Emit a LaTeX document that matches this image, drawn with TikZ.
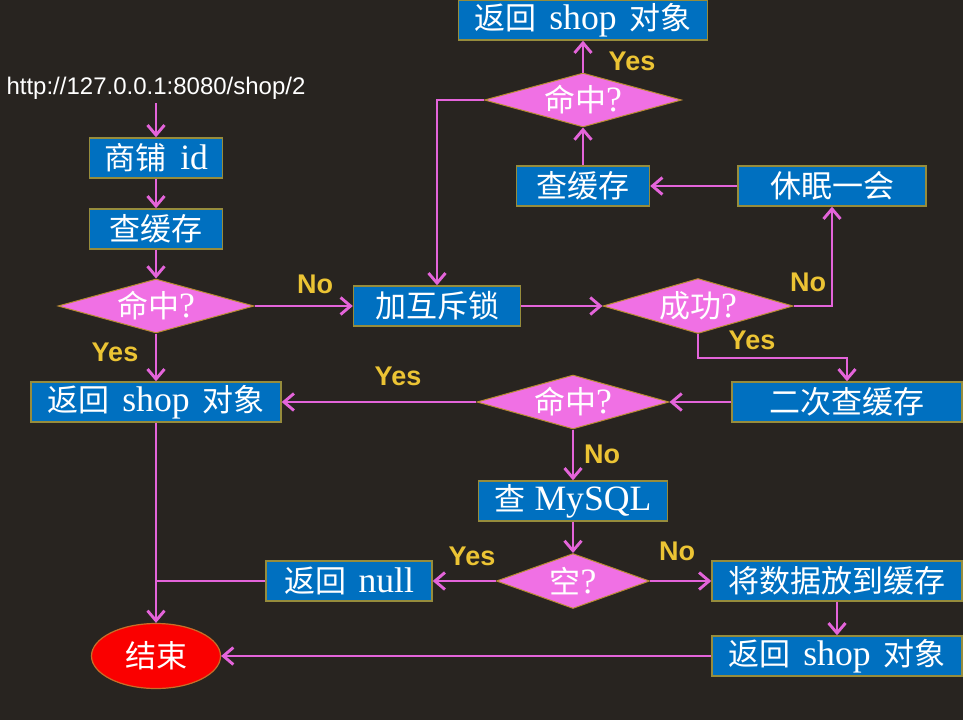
\documentclass[tikz,border=0pt]{standalone}
\usepackage{fontspec}
\setmainfont{Liberation Serif}[Scale=1.15]
\setsansfont{Liberation Sans}
\newfontfamily\cjk{Noto Sans CJK SC}
\newcommand{\hanzi}[1]{{\cjk #1}}
\usepackage{tikz}
\usetikzlibrary{arrows.meta, shapes.geometric, positioning}

\definecolor{bgcol}{RGB}{40,36,32}
\definecolor{boxblue}{RGB}{0,112,192}
\definecolor{boxedge}{RGB}{150,140,60}
\definecolor{dpink}{RGB}{240,112,228}
\definecolor{dedge}{RGB}{185,140,50}
\definecolor{lpink}{RGB}{228,100,218}
\definecolor{lblyellow}{RGB}{236,196,52}
\definecolor{endred}{RGB}{250,0,0}
\definecolor{endedge}{RGB}{200,110,40}

\tikzset{
  box/.style={draw=boxedge, line width=1.4pt, fill=boxblue, text=white, inner sep=0pt,
    minimum height=40pt, font=\fontsize{31}{36}\selectfont},
  ask/.style={diamond, aspect=3.3, draw=dedge, line width=1pt, fill=dpink, text=white,
    inner sep=0pt, minimum width=194pt, minimum height=54pt, font=\fontsize{31}{36}\selectfont},
  yn/.style={text=lblyellow, font=\sffamily\bfseries\fontsize{27}{30}\selectfont},
  flow/.style={draw=lpink, line width=2.9pt, -{Straight Barb[length=10pt,width=17pt]}},
}

\begin{document}
\begin{tikzpicture}[x=1pt, y=-1pt]
\fill[bgcol] (0,0) rectangle (963,720);
\useasboundingbox (0,0) rectangle (963,720);

\node[text=white, font=\sffamily\fontsize{24}{27}\selectfont] (url) at (156,88) {http://127.0.0.1:8080/shop/2};
\node[box, minimum width=133pt] (id) at (156,158) {\hanzi{商铺}\hspace{.4em}id};
\node[box, minimum width=133pt] (cache) at (156,229) {\hanzi{查缓存}};
\node[ask, minimum width=196pt] (hit) at (156,306) {\hanzi{命中}?};
\node[box, minimum width=250pt] (shop) at (156,402) {\hanzi{返回}\hspace{.35em}shop\hspace{.35em}\hanzi{对象}};
\node[box, minimum width=167pt] (lock) at (437,306) {\hanzi{加互斥锁}};
\node[ask, minimum width=190pt, minimum height=55pt] (ok) at (698,306) {\hanzi{成功}?};

\node[box, minimum width=249pt] (topshop) at (583,20) {\hanzi{返回}\hspace{.35em}shop\hspace{.35em}\hanzi{对象}};
\node[ask, minimum width=197pt] (tophit) at (583,100) {\hanzi{命中}?};
\node[box, minimum width=133pt] (topcache) at (583,186) {\hanzi{查缓存}};
\node[box, minimum width=188pt] (sleep) at (832,186) {\hanzi{休眠一会}};

\node[box, minimum width=230pt] (recheck) at (847,402) {\hanzi{二次查缓存}};
\node[ask, minimum width=192pt] (rehit) at (573,402) {\hanzi{命中}?};
\node[box, minimum width=189pt] (mysql) at (573,501) {\hanzi{查}\hspace{.25em}MySQL};
\node[ask, minimum width=153pt, minimum height=55pt] (empty) at (573,581) {\hanzi{空}?};
\node[box, minimum width=166pt] (null) at (349,581) {\hanzi{返回}\hspace{.35em}null};
\node[box, minimum width=250pt] (save) at (837,581) {\hanzi{将数据放到缓存}};
\node[box, minimum width=250pt] (lastshop) at (837,656) {\hanzi{返回}\hspace{.35em}shop\hspace{.35em}\hanzi{对象}};
\node[ellipse, draw=endedge, line width=1.2pt, fill=endred, text=white, inner sep=0pt,
  minimum width=129pt, minimum height=65pt, font=\fontsize{31}{36}\selectfont] (end) at (156,656) {\hanzi{结束}};

% Yes / No
\node[yn] (no1) at (315,284) {No};
\node[yn] (yes1) at (115,352) {Yes};
\node[yn] (yes2) at (632,61) {Yes};
\node[yn] (no2) at (808,282) {No};
\node[yn] (yes3) at (752,340) {Yes};
\node[yn] (yes4) at (398,376) {Yes};
\node[yn] (no3) at (602,454) {No};
\node[yn] (yes5) at (472,556) {Yes};
\node[yn] (no4) at (677,551) {No};

\draw[flow] (url) -- (id);
\draw[flow] (id) -- (cache);
\draw[flow] (cache) -- (hit);
\draw[flow] (hit) -- (lock);
\draw[flow] (hit) -- (shop);
\draw[flow] (lock) -- (ok);
\draw[flow] (tophit.west) -| (lock.north);
\draw[flow] (tophit) -- (topshop);
\draw[flow] (topcache) -- (tophit);
\draw[flow] (sleep) -- (topcache);
\draw[flow] (ok.east) -| (sleep.south);
\draw[flow] (ok.south) -- ++(0,24) -| (recheck.north);
\draw[flow] (recheck) -- (rehit);
\draw[flow] (rehit) -- (shop);
\draw[flow] (rehit) -- (mysql);
\draw[flow] (mysql) -- (empty);
\draw[flow] (empty) -- (null);
\draw[flow] (empty) -- (save);
\draw[flow] (save) -- (lastshop);
\draw[flow] (lastshop) -- (end);
\draw[flow] (shop) -- (end);
\draw[flow, -] (null.west) -- (null.west -| end.north);
\end{tikzpicture}
\end{document}
